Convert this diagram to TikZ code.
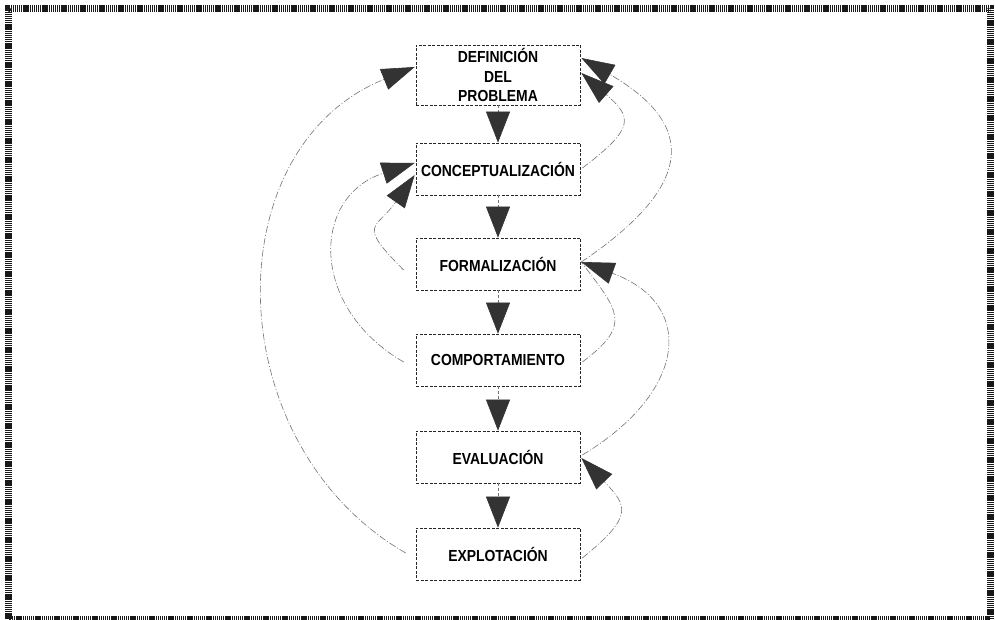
\documentclass[tikz,border=0pt]{standalone}
\usepackage{fontspec}
\newfontfamily\boxfont{Liberation Sans}[FakeStretch=0.87]
\usetikzlibrary{arrows.meta}

\begin{document}
\begin{tikzpicture}[x=1pt,y=1pt,
  stage/.style={draw=black!85, dash pattern=on 3pt off 1.5pt, line width=.7pt,
    minimum width=164pt, minimum height=52pt, inner sep=0pt, align=center,
    font=\boxfont\bfseries\fontsize{16}{19.5}\selectfont},
  down/.style={draw=black!55, dash pattern=on 3pt off 2pt, line width=.6pt,
    -{Triangle[length=31pt,width=24pt,color=black!80]}},
  back/.style={draw=black!55, dash pattern=on 7pt off 2pt on 1pt off 2pt, line width=.6pt,
    -{Triangle[length=33pt,width=22pt,color=black!80]}}]
\useasboundingbox (0,0) rectangle (995,620);
\draw[black!90, line width=7pt, dash pattern=on 1.2pt off .7pt] (8.5,0.5) rectangle (990,611.5);

\node[stage, minimum height=60pt] (def) at (498,545) {DEFINICIÓN\\DEL\\PROBLEMA};
\node[stage] (con) at (498,451) {CONCEPTUALIZACIÓN};
\node[stage] (form) at (498,356) {FORMALIZACIÓN};
\node[stage] (comp) at (498,260) {COMPORTAMIENTO};
\node[stage] (eval) at (498,163) {EVALUACIÓN};
\node[stage] (expl) at (498,66) {EXPLOTACIÓN};

\draw[down] (def) -- (con);
\draw[down] (con) -- (form);
\draw[down] (form) -- (comp);
\draw[down] (comp) -- (eval);
\draw[down] (eval) -- (expl);

\draw[back] ([xshift=-10pt,yshift=1pt]expl.west) to[out=150,in=202,looseness=1.14] ([xshift=-1pt,yshift=8pt]def.west);
\draw[back] ([xshift=-12pt,yshift=-2pt]comp.west) to[out=150,in=198,looseness=1.4] ([xshift=-1pt,yshift=6pt]con.west);
\draw[back] ([xshift=-12pt,yshift=-6pt]form.west) to[out=135,in=235,looseness=1.8] ([xshift=-1pt,yshift=-6pt]con.west);

\draw[back] ([xshift=2pt,yshift=1pt]con.east) to[out=37,in=319,looseness=1.8] ([xshift=1pt,yshift=2pt]def.east);
\draw[back] ([xshift=1pt,yshift=2pt]form.east) to[out=34,in=330,looseness=1.7] ([xshift=1pt,yshift=17pt]def.east);
\draw[back, -] ([xshift=2pt,yshift=-2pt]comp.east) to[out=37,in=307,looseness=1.6] ([xshift=1pt,yshift=2pt]form.east);
\draw[back] ([xshift=2pt,yshift=2pt]eval.east) to[out=31,in=340,looseness=1.62] ([xshift=1pt,yshift=2pt]form.east);
\draw[back] ([xshift=2pt,yshift=-4pt]expl.east) to[out=39,in=314,looseness=1.7] ([xshift=1pt,yshift=-1pt]eval.east);
\end{tikzpicture}
\end{document}
